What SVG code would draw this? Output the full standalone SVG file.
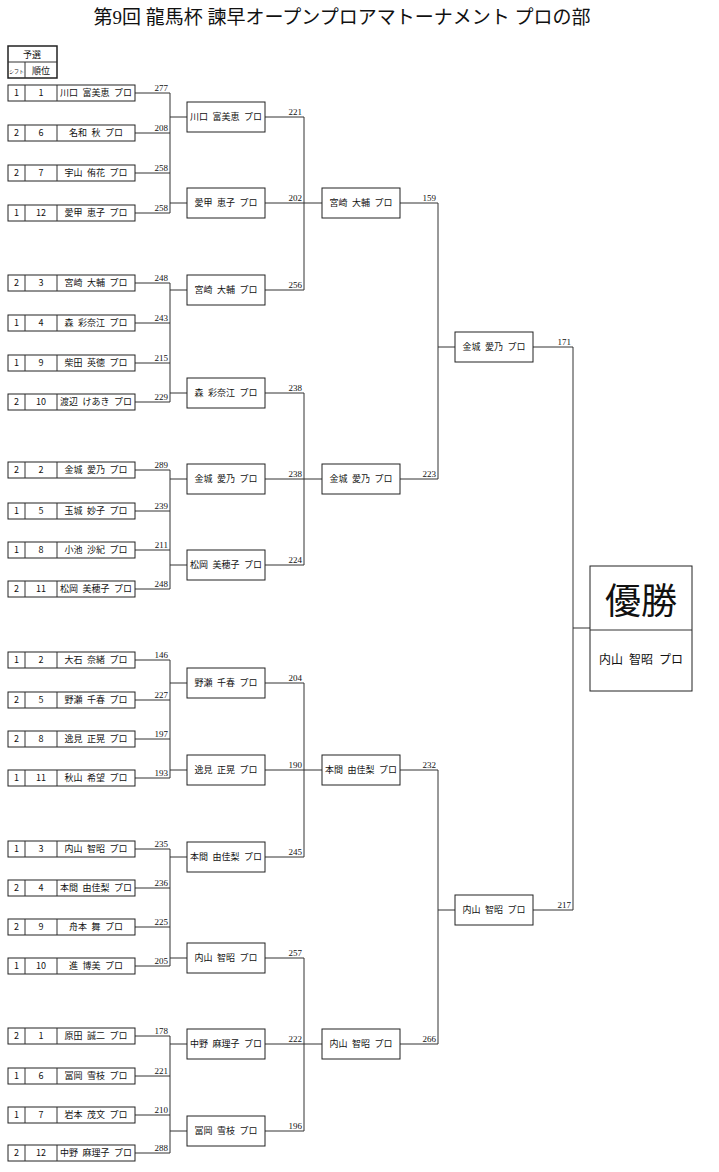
<svg xmlns="http://www.w3.org/2000/svg" width="719" height="1172" viewBox="0 0 719 1172">
<style>
rect{fill:#fff;stroke:#222;stroke-width:1}
.ln{stroke:#333;stroke-width:1;fill:none}
text{font-family:"Noto Sans CJK JP",sans-serif;font-size:9px;fill:#111}
.c{text-anchor:middle}
.s{font-family:"Liberation Serif","Noto Sans CJK JP",serif;font-size:9px;text-anchor:end}
.t{font-family:"Liberation Serif","Noto Sans CJK JP",serif;font-size:19px;text-anchor:middle}
</style>
<rect width="719" height="1172" style="stroke:none"/>
<text class="t" x="342" y="24">第9回 龍馬杯 諫早オープンプロアマトーナメント プロの部</text>
<g id="header">
<rect x="8" y="46" width="49" height="32" style="stroke-width:1.5"/>
<line class="ln" x1="8" y1="62" x2="57" y2="62"/><line class="ln" x1="25" y1="62" x2="25" y2="78"/>
<text class="c" x="32" y="58">予選</text>
<text class="c" x="16.5" y="73" style="font-size:5px">シフト</text>
<text class="c" x="41" y="74">順位</text>
</g>
<g id="connectors">
<path class="ln" d="M135,93H170M135,133H170M135,173H170M135,213H170M170,93V213M170,117H187M170,203H187"/>
<path class="ln" d="M135,283H170M135,323H170M135,363H170M135,402H170M170,283V402M170,290H187M170,393H187"/>
<path class="ln" d="M135,470H170M135,511H170M135,550H170M135,589H170M170,470V589M170,479H187M170,565H187"/>
<path class="ln" d="M135,660H170M135,700H170M135,739H170M135,778H170M170,660V778M170,683H187M170,770H187"/>
<path class="ln" d="M135,849H170M135,888H170M135,927H170M135,966H170M170,849V966M170,857H187M170,958H187"/>
<path class="ln" d="M135,1036H170M135,1076H170M135,1115H170M135,1153H170M170,1036V1153M170,1044H187M170,1131H187"/>
<path class="ln" d="M265,117H304M265,203H322M265,290H304M304,117V290"/>
<path class="ln" d="M265,393H304M265,479H322M265,565H304M304,393V565"/>
<path class="ln" d="M265,683H304M265,770H322M265,857H304M304,683V857"/>
<path class="ln" d="M265,958H304M265,1044H322M265,1131H304M304,958V1131"/>
<path class="ln" d="M400,203H438M400,479H438M438,203V479M438,347H455"/>
<path class="ln" d="M400,770H438M400,1044H438M438,770V1044M438,910H455"/>
<path class="ln" d="M533,347H573M533,910H573M573,347V910M573,628H590"/>
</g>
<g id="scores">
<text class="s" x="168" y="91">277</text><text class="s" x="168" y="131">208</text><text class="s" x="168" y="171">258</text><text class="s" x="168" y="211">258</text>
<text class="s" x="168" y="281">248</text><text class="s" x="168" y="321">243</text><text class="s" x="168" y="361">215</text><text class="s" x="168" y="400">229</text>
<text class="s" x="168" y="468">289</text><text class="s" x="168" y="509">239</text><text class="s" x="168" y="548">211</text><text class="s" x="168" y="587">248</text>
<text class="s" x="168" y="658">146</text><text class="s" x="168" y="698">227</text><text class="s" x="168" y="737">197</text><text class="s" x="168" y="776">193</text>
<text class="s" x="168" y="847">235</text><text class="s" x="168" y="886">236</text><text class="s" x="168" y="925">225</text><text class="s" x="168" y="964">205</text>
<text class="s" x="168" y="1034">178</text><text class="s" x="168" y="1074">221</text><text class="s" x="168" y="1113">210</text><text class="s" x="168" y="1151">288</text>
<text class="s" x="302" y="115">221</text><text class="s" x="302" y="201">202</text><text class="s" x="302" y="288">256</text>
<text class="s" x="302" y="391">238</text><text class="s" x="302" y="477">238</text><text class="s" x="302" y="563">224</text>
<text class="s" x="302" y="681">204</text><text class="s" x="302" y="768">190</text><text class="s" x="302" y="855">245</text>
<text class="s" x="302" y="956">257</text><text class="s" x="302" y="1042">222</text><text class="s" x="302" y="1129">196</text>
<text class="s" x="436" y="201">159</text><text class="s" x="436" y="477">223</text>
<text class="s" x="436" y="768">232</text><text class="s" x="436" y="1042">266</text>
<text class="s" x="571" y="345">171</text><text class="s" x="571" y="908">217</text>
</g>
<defs>
<g id="row"><rect x="8" y="-8" width="127" height="16"/><line class="ln" x1="25" y1="-8" x2="25" y2="8"/><line class="ln" x1="57" y1="-8" x2="57" y2="8"/></g>
</defs>
<g id="p1" transform="translate(0,93)"><use href="#row"/><text class="c" x="16.5" y="3">1</text><text class="c" x="41" y="3">1</text><text class="c" x="96" y="3">川口&#8194;富美恵&#8194;プロ</text></g>
<g id="p2" transform="translate(0,133)"><use href="#row"/><text class="c" x="16.5" y="3">2</text><text class="c" x="41" y="3">6</text><text class="c" x="96" y="3">名和&#8194;秋&#8194;プロ</text></g>
<g id="p3" transform="translate(0,173)"><use href="#row"/><text class="c" x="16.5" y="3">2</text><text class="c" x="41" y="3">7</text><text class="c" x="96" y="3">宇山&#8194;侑花&#8194;プロ</text></g>
<g id="p4" transform="translate(0,213)"><use href="#row"/><text class="c" x="16.5" y="3">1</text><text class="c" x="41" y="3">12</text><text class="c" x="96" y="3">愛甲&#8194;恵子&#8194;プロ</text></g>
<g id="p5" transform="translate(0,283)"><use href="#row"/><text class="c" x="16.5" y="3">2</text><text class="c" x="41" y="3">3</text><text class="c" x="96" y="3">宮崎&#8194;大輔&#8194;プロ</text></g>
<g id="p6" transform="translate(0,323)"><use href="#row"/><text class="c" x="16.5" y="3">1</text><text class="c" x="41" y="3">4</text><text class="c" x="96" y="3">森&#8194;彩奈江&#8194;プロ</text></g>
<g id="p7" transform="translate(0,363)"><use href="#row"/><text class="c" x="16.5" y="3">1</text><text class="c" x="41" y="3">9</text><text class="c" x="96" y="3">柴田&#8194;英徳&#8194;プロ</text></g>
<g id="p8" transform="translate(0,402)"><use href="#row"/><text class="c" x="16.5" y="3">2</text><text class="c" x="41" y="3">10</text><text class="c" x="96" y="3">渡辺&#8194;けあき&#8194;プロ</text></g>
<g id="p9" transform="translate(0,470)"><use href="#row"/><text class="c" x="16.5" y="3">2</text><text class="c" x="41" y="3">2</text><text class="c" x="96" y="3">金城&#8194;愛乃&#8194;プロ</text></g>
<g id="p10" transform="translate(0,511)"><use href="#row"/><text class="c" x="16.5" y="3">1</text><text class="c" x="41" y="3">5</text><text class="c" x="96" y="3">玉城&#8194;妙子&#8194;プロ</text></g>
<g id="p11" transform="translate(0,550)"><use href="#row"/><text class="c" x="16.5" y="3">1</text><text class="c" x="41" y="3">8</text><text class="c" x="96" y="3">小池&#8194;沙紀&#8194;プロ</text></g>
<g id="p12" transform="translate(0,589)"><use href="#row"/><text class="c" x="16.5" y="3">2</text><text class="c" x="41" y="3">11</text><text class="c" x="96" y="3">松岡&#8194;美穂子&#8194;プロ</text></g>
<g id="p13" transform="translate(0,660)"><use href="#row"/><text class="c" x="16.5" y="3">1</text><text class="c" x="41" y="3">2</text><text class="c" x="96" y="3">大石&#8194;奈緒&#8194;プロ</text></g>
<g id="p14" transform="translate(0,700)"><use href="#row"/><text class="c" x="16.5" y="3">2</text><text class="c" x="41" y="3">5</text><text class="c" x="96" y="3">野瀬&#8194;千春&#8194;プロ</text></g>
<g id="p15" transform="translate(0,739)"><use href="#row"/><text class="c" x="16.5" y="3">2</text><text class="c" x="41" y="3">8</text><text class="c" x="96" y="3">逸見&#8194;正晃&#8194;プロ</text></g>
<g id="p16" transform="translate(0,778)"><use href="#row"/><text class="c" x="16.5" y="3">1</text><text class="c" x="41" y="3">11</text><text class="c" x="96" y="3">秋山&#8194;希望&#8194;プロ</text></g>
<g id="p17" transform="translate(0,849)"><use href="#row"/><text class="c" x="16.5" y="3">1</text><text class="c" x="41" y="3">3</text><text class="c" x="96" y="3">内山&#8194;智昭&#8194;プロ</text></g>
<g id="p18" transform="translate(0,888)"><use href="#row"/><text class="c" x="16.5" y="3">2</text><text class="c" x="41" y="3">4</text><text class="c" x="96" y="3">本間&#8194;由佳梨&#8194;プロ</text></g>
<g id="p19" transform="translate(0,927)"><use href="#row"/><text class="c" x="16.5" y="3">2</text><text class="c" x="41" y="3">9</text><text class="c" x="96" y="3">舟本&#8194;舞&#8194;プロ</text></g>
<g id="p20" transform="translate(0,966)"><use href="#row"/><text class="c" x="16.5" y="3">1</text><text class="c" x="41" y="3">10</text><text class="c" x="96" y="3">進&#8194;博美&#8194;プロ</text></g>
<g id="p21" transform="translate(0,1036)"><use href="#row"/><text class="c" x="16.5" y="3">2</text><text class="c" x="41" y="3">1</text><text class="c" x="96" y="3">原田&#8194;誠二&#8194;プロ</text></g>
<g id="p22" transform="translate(0,1076)"><use href="#row"/><text class="c" x="16.5" y="3">1</text><text class="c" x="41" y="3">6</text><text class="c" x="96" y="3">冨岡&#8194;雪枝&#8194;プロ</text></g>
<g id="p23" transform="translate(0,1115)"><use href="#row"/><text class="c" x="16.5" y="3">1</text><text class="c" x="41" y="3">7</text><text class="c" x="96" y="3">岩本&#8194;茂文&#8194;プロ</text></g>
<g id="p24" transform="translate(0,1153)"><use href="#row"/><text class="c" x="16.5" y="3">2</text><text class="c" x="41" y="3">12</text><text class="c" x="96" y="3">中野&#8194;麻理子&#8194;プロ</text></g>
<defs><rect id="b" x="0" y="-15" width="78" height="30"/></defs>
<g id="r1a" transform="translate(187,117)"><use href="#b"/><text class="c" x="39" y="3">川口&#8194;富美恵&#8194;プロ</text></g>
<g id="r1b" transform="translate(187,203)"><use href="#b"/><text class="c" x="39" y="3">愛甲&#8194;恵子&#8194;プロ</text></g>
<g id="r1c" transform="translate(187,290)"><use href="#b"/><text class="c" x="39" y="3">宮崎&#8194;大輔&#8194;プロ</text></g>
<g id="r1d" transform="translate(187,393)"><use href="#b"/><text class="c" x="39" y="3">森&#8194;彩奈江&#8194;プロ</text></g>
<g id="r1e" transform="translate(187,479)"><use href="#b"/><text class="c" x="39" y="3">金城&#8194;愛乃&#8194;プロ</text></g>
<g id="r1f" transform="translate(187,565)"><use href="#b"/><text class="c" x="39" y="3">松岡&#8194;美穂子&#8194;プロ</text></g>
<g id="r1g" transform="translate(187,683)"><use href="#b"/><text class="c" x="39" y="3">野瀬&#8194;千春&#8194;プロ</text></g>
<g id="r1h" transform="translate(187,770)"><use href="#b"/><text class="c" x="39" y="3">逸見&#8194;正晃&#8194;プロ</text></g>
<g id="r1i" transform="translate(187,857)"><use href="#b"/><text class="c" x="39" y="3">本間&#8194;由佳梨&#8194;プロ</text></g>
<g id="r1j" transform="translate(187,958)"><use href="#b"/><text class="c" x="39" y="3">内山&#8194;智昭&#8194;プロ</text></g>
<g id="r1k" transform="translate(187,1044)"><use href="#b"/><text class="c" x="39" y="3">中野&#8194;麻理子&#8194;プロ</text></g>
<g id="r1l" transform="translate(187,1131)"><use href="#b"/><text class="c" x="39" y="3">冨岡&#8194;雪枝&#8194;プロ</text></g>
<g id="r2a" transform="translate(322,203)"><use href="#b"/><text class="c" x="39" y="3">宮崎&#8194;大輔&#8194;プロ</text></g>
<g id="r2b" transform="translate(322,479)"><use href="#b"/><text class="c" x="39" y="3">金城&#8194;愛乃&#8194;プロ</text></g>
<g id="r2c" transform="translate(322,770)"><use href="#b"/><text class="c" x="39" y="3">本間&#8194;由佳梨&#8194;プロ</text></g>
<g id="r2d" transform="translate(322,1044)"><use href="#b"/><text class="c" x="39" y="3">内山&#8194;智昭&#8194;プロ</text></g>
<g id="r3a" transform="translate(455,347)"><use href="#b"/><text class="c" x="39" y="3">金城&#8194;愛乃&#8194;プロ</text></g>
<g id="r3b" transform="translate(455,910)"><use href="#b"/><text class="c" x="39" y="3">内山&#8194;智昭&#8194;プロ</text></g>
<g id="champion">
<rect x="590" y="566" width="102" height="125"/>
<line class="ln" x1="590" y1="630" x2="692" y2="630"/>
<text class="c" x="641" y="614" style="font-size:36px">優勝</text>
<text class="c" x="641" y="664" style="font-size:12px">内山&#8194;智昭&#8194;プロ</text>
</g>
</svg>
